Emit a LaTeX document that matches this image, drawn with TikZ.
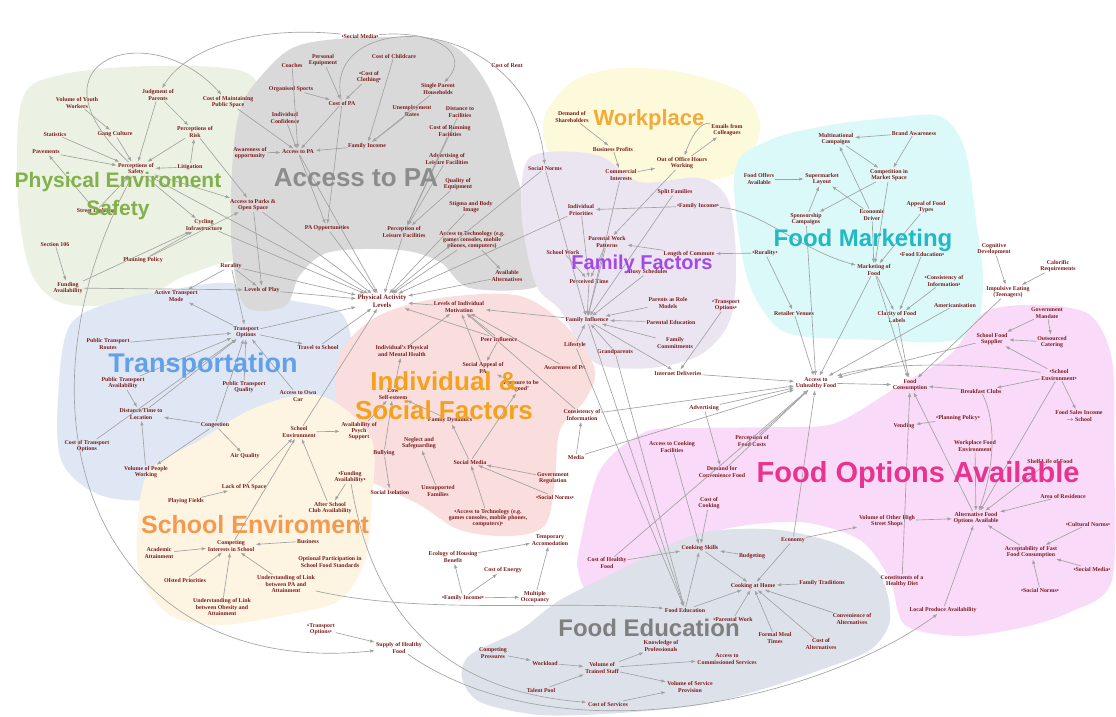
\documentclass[tikz,border=0pt]{standalone}
\usepackage{fontspec}
\setmainfont{Liberation Serif}
\newfontfamily\titlef{Liberation Sans}
\usetikzlibrary{arrows.meta}
\definecolor{nred}{HTML}{7A1E1E}
\definecolor{egray}{HTML}{A2A2A2}
\definecolor{bgPES}{HTML}{ECF2E3}
\definecolor{bgAPA}{HTML}{D9D9D9}
\definecolor{bgWP}{HTML}{FDF9DB}
\definecolor{bgFF}{HTML}{EBE5F2}
\definecolor{bgFM}{HTML}{DBF9F9}
\definecolor{bgTR}{HTML}{DFE7F5}
\definecolor{bgIS}{HTML}{FADDDD}
\definecolor{bgSE}{HTML}{FDF4E2}
\definecolor{bgFO}{HTML}{F9DAF8}
\definecolor{bgFE}{HTML}{DDE2EA}
\definecolor{tPES}{HTML}{82B04A}
\definecolor{tAPA}{HTML}{8C8C8C}
\definecolor{tWP}{HTML}{F2AB35}
\definecolor{tFF}{HTML}{A448E8}
\definecolor{tFM}{HTML}{22B9C4}
\definecolor{tTR}{HTML}{63A0EA}
\definecolor{tIS}{HTML}{F2A21C}
\definecolor{tSE}{HTML}{F29A50}
\definecolor{tFO}{HTML}{E8348F}
\definecolor{tFE}{HTML}{7F7F7F}
\tikzset{
  n/.style={font=\fontsize{5.9}{6.4}\selectfont\bfseries, text=nred, align=center, inner sep=0.8pt},
  ar/.style={draw=egray, line width=0.65pt, -{Latex[length=4.5pt,width=3.4pt]}, shorten >=0.5pt},
  ttl/.style={inner sep=0pt, font=\titlef\bfseries\fontsize{#1}{#1}\selectfont}
}
\begin{document}
\begin{tikzpicture}[x=1pt,y=-1pt]
\useasboundingbox (0,0) rectangle (1116,717);
\fill[white] (0,0) rectangle (1116,717);
% ---------- region blobs ----------
\fill[bgPES] plot[smooth cycle, tension=0.55] coordinates {(22,100) (60,75) (150,66) (245,72) (262,110) (245,150) (235,215) (240,255) (215,265) (180,278) (140,300) (90,306) (55,300) (30,270) (18,200)};
\fill[bgTR] plot[smooth cycle, tension=0.55] coordinates {(70,325) (120,300) (170,290) (230,283) (290,300) (340,312) (352,350) (345,400) (310,440) (262,466) (220,484) (160,500) (100,495) (62,462) (58,400)};
\fill[bgAPA] plot[smooth cycle, tension=0.55] coordinates {(262,75) (300,45) (380,37) (450,44) (490,90) (515,170) (535,240) (540,285) (470,288) (440,262) (400,250) (330,252) (300,275) (285,306) (245,306) (232,250) (232,170) (240,110)};
\fill[bgWP] plot[smooth cycle, tension=0.55] coordinates {(545,115) (575,80) (625,68) (690,74) (745,95) (760,130) (740,170) (700,182) (640,186) (580,176) (548,150)};
\fill[bgFF] plot[smooth cycle, tension=0.55] coordinates {(525,165) (548,152) (600,156) (640,182) (700,178) (728,200) (736,260) (730,320) (700,355) (650,368) (600,365) (580,345) (560,310) (536,285) (522,220)};
\fill[bgFM] plot[smooth cycle, tension=0.55] coordinates {(735,170) (770,140) (830,125) (900,117) (942,117) (965,150) (976,220) (983,280) (975,330) (940,342) (880,340) (800,336) (770,320) (745,270)};
\fill[bgIS] plot[smooth cycle, tension=0.55] coordinates {(345,345) (380,315) (440,298) (520,296) (570,330) (595,370) (585,400) (560,430) (555,480) (545,525) (510,536) (460,530) (420,505) (380,486) (355,470) (340,420) (335,380)};
\fill[bgSE] plot[smooth cycle, tension=0.55] coordinates {(150,470) (200,440) (250,410) (300,395) (335,402) (372,440) (372,500) (365,560) (340,600) (290,614) (220,625) (170,615) (140,575) (138,520)};
\fill[bgFO] plot[smooth cycle, tension=0.5] coordinates {(580,545) (600,470) (645,432) (700,428) (780,427) (836,423) (900,385) (950,355) (985,312) (1040,305) (1090,315) (1112,360) (1114,450) (1112,580) (1070,612) (1020,628) (960,636) (905,625) (890,580) (860,540) (800,522) (720,530) (650,560) (592,592) (578,570)};
\fill[bgFE] plot[smooth cycle, tension=0.5] coordinates {(470,655) (520,630) (560,600) (620,570) (680,540) (720,530) (780,530) (840,545) (880,575) (890,620) (870,650) (820,670) (760,690) (700,705) (620,713) (540,715) (480,702) (462,678)};
% ---------- nodes ----------
\node[n] (vyw) at (77,103) {Volume of Youth\\Workers};
\node[n] (jop) at (158,95) {Judgment of\\Parents};
\node[n] (cmps) at (228,102) {Cost of Maintaining\\Public Space};
\node[n] (por) at (195,132) {Perceptions of\\Risk};
\node[n] (stat) at (55,134) {Statistics};
\node[n] (gang) at (115,134) {Gang Culture};
\node[n] (pave) at (46,152) {Pavements};
\node[n] (pos) at (136,169) {Perceptions of\\Safety};
\node[n] (litig) at (190,167) {Litigation};
\node[n] (street) at (96,211) {Street Lighting};
\node[n] (parks) at (253,205) {Access to Parks \&\\Open Space};
\node[n] (cyc) at (204,225) {Cycling\\Infrastructure};
\node[n] (s106) at (55,244) {Section 106};
\node[n] (plan) at (143,260) {Planning Policy};
\node[n] (fund) at (68,288) {Funding\\Availability};
\node[n] (coach) at (292,65) {Coaches};
\node[n] (pequip) at (323,60) {Personal\\Equipment};
\node[n] (cchild) at (394,56) {Cost of Childcare};
\node[n] (cloth) at (369,77) {•Cost of\\Clothing•};
\node[n] (orgs) at (291,89) {Organised Sports};
\node[n] (cpa) at (342,103) {Cost of PA};
\node[n] (spar) at (438,89) {Single Parent\\Households};
\node[n] (unemp) at (412,111) {Unemployment\\Rates};
\node[n] (dfac) at (460,112) {Distance to\\Facilities};
\node[n] (crun) at (450,131) {Cost of Running\\Facilities};
\node[n] (iconf) at (285,118) {Individual\\Confidence};
\node[n] (finc) at (367,146) {Family Income};
\node[n] (apa) at (298,152) {Access to PA};
\node[n] (aware) at (250,153) {Awareness of\\opportunity};
\node[n] (advlf) at (447,159) {Advertising of\\Leisure Facilities};
\node[n] (qeq) at (458,184) {Quality of\\Equipment};
\node[n] (stig) at (471,207) {Stigma and Body\\Image};
\node[n] (paopp) at (327,228) {PA Opportunities};
\node[n] (plf) at (404,232) {Perception of\\Leisure Facilities};
\node[n] (atech) at (472,240) {Access to Technology (e.g.\\games consoles, mobile\\phones, computers)};
\node[n] (aalt) at (507,276) {Available\\Alternatives};
\node[n] (lplay) at (262,290) {Levels of Play};
\node[n, font=\fontsize{6.8}{7.5}\selectfont\bfseries] (pal) at (382,301) {Physical Activity\\Levels};
\node[n] (smtop) at (360,36) {•Social Media•};
\node[n] (rent) at (507,65) {Cost of Rent};
\node[n] (dsh) at (572,117) {Demand of\\Shareholders};
\node[n] (email) at (727,130) {Emails from\\Colleagues};
\node[n] (bprof) at (613,149) {Business Profits};
\node[n] (ooh) at (682,163) {Out of Office Hours\\Working};
\node[n] (comm) at (621,175) {Commercial\\Interests};
\node[n] (snorm) at (545,168) {Social Norms};
\node[n] (split) at (675,192) {Split Families};
\node[n] (iprio) at (581,210) {Individual\\Priorities};
\node[n] (finc2) at (698,206) {•Family Income•};
\node[n] (pwp) at (607,242) {Parental Work\\Patterns};
\node[n] (swork) at (563,252) {School Work};
\node[n] (lcom) at (689,254) {Length of Commute};
\node[n] (rur2) at (765,253) {•Rurality•};
\node[n] (busy) at (648,272) {Busy Schedules};
\node[n] (ptime) at (589,281) {Perceived Time};
\node[n] (prole) at (668,303) {Parents as Role\\Models};
\node[n] (topt2) at (726,305) {•Transport\\Options•};
\node[n] (finf) at (587,320) {Family Influence};
\node[n] (ped) at (671,322) {Parental Education};
\node[n] (life) at (575,345) {Lifestyle};
\node[n] (grand) at (615,352) {Grandparents};
\node[n] (fcom) at (675,343) {Family\\Commitments};
\node[n] (retail) at (794,313) {Retailer Venues};
\node[n] (idel) at (678,373) {Internet Deliveries};
\node[n] (multi) at (836,139) {Multinational\\Campaigns};
\node[n] (brand) at (914,133) {Brand Awareness};
\node[n] (foff) at (759,179) {Food Offers\\Available};
\node[n] (smkt) at (822,179) {Supermarket\\Layout};
\node[n] (comp) at (889,175) {Competition in\\Market Space};
\node[n] (spon) at (806,219) {Sponsorship\\Campaigns};
\node[n] (econd) at (872,215) {Economic\\Driver};
\node[n] (appeal) at (926,207) {Appeal of Food\\Types};
\node[n] (fed2) at (922,254) {•Food Education•};
\node[n] (mkt) at (874,270) {Marketing of\\Food};
\node[n] (coi2) at (944,281) {•Consistency of\\Information•};
\node[n] (amer) at (955,305) {Americanisation};
\node[n] (clar) at (897,317) {Clarity of Food\\Labels};
\node[n] (cog) at (994,249) {Cognitive\\Development};
\node[n] (cal) at (1058,266) {Calorific\\Requirements};
\node[n] (imp) at (1008,292) {Impulsive Eating\\(Teenagers)};
\node[n] (gov) at (1047,313) {Government\\Mandate};
\node[n] (sfs) at (992,339) {School Food\\Supplier};
\node[n] (outc) at (1052,342) {Outsourced\\Catering};
\node[n] (auf) at (816,383) {Access to\\Unhealthy Food};
\node[n] (fcons) at (910,385) {Food\\Consumption};
\node[n] (senv2) at (1059,375) {•School\\Environment•};
\node[n] (bclub) at (981,391) {Breakfast Clubs};
\node[n] (fsi) at (1079,416) {Food Sales Income\\$\rightarrow$ School};
\node[n] (ppol2) at (958,418) {•Planning Policy•};
\node[n] (vend) at (904,426) {Vending};
\node[n] (wfe) at (975,446) {Workplace Food\\Environment};
\node[n] (shelf) at (1050,461) {Shelf Life of Food};
\node[n] (area) at (1063,496) {Area of Residence};
\node[n] (voth) at (887,521) {Volume of Other High\\Street Shops};
\node[n] (alt) at (976,518) {Alternative Food\\Options Available};
\node[n] (cult) at (1088,524) {•Cultural Norms•};
\node[n] (accf) at (1031,552) {Acceptability of Fast\\Food Consumption};
\node[n] (smr) at (1092,569) {•Social Media•};
\node[n] (snr) at (1040,590) {•Social Norms•};
\node[n] (chd) at (902,581) {Constituents of a\\Healthy Diet};
\node[n] (lpa) at (943,610) {Local Produce Availability};
\node[n] (econ) at (793,540) {Economy};
\node[n] (pfc) at (752,441) {Perception of\\Food Costs};
\node[n] (acf) at (672,447) {Access to Cooking\\Facilities};
\node[n] (dcf) at (722,472) {Demand for\\Convenience Food};
\node[n] (ccook) at (709,503) {Cost of\\Cooking};
\node[n] (chf) at (607,563) {Cost of Healthy\\Food};
\node[n] (advt) at (704,408) {Advertising};
\node[n] (coi) at (582,415) {Consistency of\\Information};
\node[n] (media) at (576,457) {Media};
\node[n] (greg) at (553,478) {Government\\Regulation};
\node[n] (snm) at (555,497) {•Social Norms•};
\node[n] (cskill) at (700,548) {Cooking Skills};
\node[n] (budg) at (752,556) {Budgeting};
\node[n] (cah) at (753,586) {Cooking at Home};
\node[n] (ftrad) at (822,583) {Family Traditions};
\node[n] (fedu) at (685,610) {Food Education};
\node[n] (pwork) at (733,619) {•Parental Work};
\node[n] (fmt) at (775,638) {Formal Meal\\Times};
\node[n] (calt) at (821,644) {Cost of\\Alternatives};
\node[n] (convalt) at (852,619) {Convenience of\\Alternatives};
\node[n] (kprof) at (661,646) {Knowledge of\\Professionals};
\node[n] (acs) at (727,659) {Access to\\Commissioned Services};
\node[n] (vts) at (602,668) {Volume of\\Trained Staff};
\node[n] (wload) at (545,663) {Workload};
\node[n] (cpres) at (493,653) {Competing\\Pressures};
\node[n] (tpool) at (541,690) {Talent Pool};
\node[n] (vsp) at (690,687) {Volume of Service\\Provision};
\node[n] (cserv) at (608,704) {Cost of Services};
\node[n] (ehb) at (453,557) {Ecology of Housing\\Benefit};
\node[n] (tacc) at (550,540) {Temporary\\Accomodation};
\node[n] (cen) at (503,570) {Cost of Energy};
\node[n] (finc3) at (463,598) {•Family Income•};
\node[n] (mocc) at (535,597) {Multiple\\Occupancy};
\node[n] (topt3) at (321,629) {•Transport\\Options•};
\node[n] (shf) at (399,648) {Supply of Healthy\\Food};
\node[n] (atech2) at (488,518) {•Access to Technology (e.g.\\games consoles, mobile phones,\\computers)•};
\node[n] (unsup) at (438,491) {Unsupported\\Families};
\node[n] (siso) at (390,492) {Social Isolation};
\node[n] (fund2) at (350,477) {•Funding\\Availability•};
\node[n] (lim) at (459,307) {Levels of Individual\\Motivation};
\node[n] (peer) at (499,339) {Peer Influence};
\node[n] (ipmh) at (402,351) {Individual's Physical\\and Mental Health};
\node[n] (sapa) at (483,368) {Social Appeal of\\PA};
\node[n] (awpa) at (565,367) {Awareness of PA};
\node[n] (ptbg) at (521,386) {Pressure to be\\`good'};
\node[n] (lse) at (393,394) {Low\\Self-esteem};
\node[n] (fdyn) at (450,420) {Family Dynamics};
\node[n] (psych) at (359,431) {Availability of\\Psych\\Support};
\node[n] (neg) at (419,443) {Neglect and\\Safeguarding};
\node[n] (bully) at (384,453) {Bullying};
\node[n] (smed) at (470,462) {Social Media};
\node[n] (tts) at (318,347) {Travel to School};
\node[n] (aoc) at (298,396) {Access to Own\\Car};
\node[n] (senv) at (299,432) {School\\Environment};
\node[n] (rur) at (231,266) {Rurality};
\node[n] (atm) at (176,296) {Active Transport\\Mode};
\node[n] (topt) at (246,332) {Transport\\Options};
\node[n] (ptr) at (108,344) {Public Transport\\Routes};
\node[n] (pta) at (123,383) {Public Transport\\Availability};
\node[n] (ptq) at (244,387) {Public Transport\\Quality};
\node[n] (dtl) at (141,414) {Distance/Time to\\Location};
\node[n] (cong) at (215,425) {Congestion};
\node[n] (cto) at (87,446) {Cost of Transport\\Options};
\node[n] (airq) at (245,456) {Air Quality};
\node[n] (vpw) at (146,472) {Volume of People\\Working};
\node[n] (lpas) at (244,487) {Lack of PA Space};
\node[n] (pfield) at (186,501) {Playing Fields};
\node[n] (asca) at (330,508) {After School\\Club Availability};
\node[n] (cis) at (231,546) {Competing\\Interests in School};
\node[n] (acad) at (159,553) {Academic\\Attainment};
\node[n] (bus) at (308,541) {Business};
\node[n] (opt) at (330,562) {Optional Participation in\\School Food Standards};
\node[n] (ofs) at (185,580) {Ofsted Priorities};
\node[n] (ulpa) at (286,584) {Understanding of Link\\between PA and\\Attainment};
\node[n] (ulob) at (222,607) {Understanding of Link\\between Obesity and\\Attainment};
% ---------- connectors ----------
\foreach \a/\b in {vyw/gang, gang/pos, stat/pos, pave/pos, jop/pos, por/pos, jop/por, litig/por, litig/pos, street/pave, street/pos, por/parks, pos/cyc, pos/parks, plan/cyc, plan/parks, s106/fund, fund/lplay, fund/cyc, cyc/pal, parks/pal, parks/lplay, pos/pal,
 coach/apa, pequip/cpa, orgs/cpa, cloth/cpa, cpa/apa, iconf/apa, aware/apa, cmps/apa, cchild/finc, spar/finc, unemp/finc, finc/apa, cpa/paopp, apa/pal, apa/paopp, paopp/pal, dfac/plf, crun/plf, advlf/plf, qeq/plf, stig/pal, plf/pal, atech/pal, atech/aalt, aalt/pal, lplay/pal, rur/pal, rur/lplay,
 dsh/bprof, bprof/comm, comm/ooh, ooh/email, comm/finf, ooh/pwp, snorm/finf, split/finf, finc2/iprio, iprio/ptime, pwp/ptime, pwp/finf, swork/ptime, lcom/pwp, rur2/lcom, ptime/finf, busy/finf, prole/finf, ped/finf, fcom/finf, life/finf, grand/finf, finf/lim, topt2/idel, finf/idel, idel/auf, rur2/retail, retail/auf, snorm/pal, iprio/pal,
 brand/multi, brand/comp, multi/comp, foff/smkt, spon/smkt, econd/multi, econd/smkt, comp/spon, appeal/mkt, comp/mkt, mkt/clar, fed2/clar, coi2/clar, mkt/fcons, mkt/auf, clar/fcons, amer/auf, cog/imp, cal/imp, imp/fcons, spon/auf, econd/mkt,
 gov/sfs, gov/outc, outc/sfs, senv2/sfs, senv2/bclub, senv2/fsi, sfs/auf, bclub/fcons, auf/fcons, ppol2/vend, wfe/alt, shelf/alt, area/alt, voth/alt, accf/alt, cult/accf, smr/accf, snr/accf, lpa/alt, chd/fcons, alt/fcons, econ/auf, senv2/alt, econ/voth,
 coi/lim, media/coi, greg/smed, advt/auf, advt/dcf, pfc/auf, acf/cskill, ccook/cskill, dcf/auf, chf/auf, cskill/cah, budg/cskill, ftrad/cah, fmt/cah, calt/cah, convalt/cah, pwork/cah, fedu/cskill, fedu/cah, vts/kprof, vts/acs, vts/vsp, cpres/wload, wload/vts, tpool/vts, cserv/vsp, ehb/tacc, finc3/ehb, finc3/cen, finc3/mocc, mocc/tacc, topt3/shf, coi/auf, media/auf, chf/cskill, finf/fedu, grand/fedu, life/fedu, econ/cah,
 pfield/lpas, lpas/senv, senv/pal, acad/cis, ofs/cis, ulob/cis, ulpa/cis, bus/cis, asca/senv, fund2/asca, cis/senv,
 rur/topt, rur/atm, topt/atm, topt/pal, tts/pal, topt/tts, ptr/topt, pta/topt, ptq/topt, aoc/topt, dtl/topt, cong/dtl, cong/airq, cong/topt, cto/topt, vpw/dtl, cong/vpw, pta/dtl,
 peer/lim, peer/sapa, peer/pal, ipmh/lim, sapa/lim, ptbg/sapa, awpa/lim, lse/ipmh, psych/lse, bully/lse, smed/ptbg, smed/fdyn, atech2/smed, snm/smed, unsup/neg, lim/pal, fdyn/lse, bully/siso, senv/psych}
  \draw[ar] (\a) -- (\b);
\draw[ar] (smtop) .. controls (250,25) and (185,50) .. (jop);
\draw[ar] (pos) .. controls (20,60) and (150,15) .. (cmps);
\draw[ar] (cpa) .. controls (320,5) and (530,10) .. (snorm);
\draw[ar] (smtop) .. controls (440,30) and (470,55) .. (spar);
\draw[ar] (pos) .. controls (0,420) and (100,680) .. (shf);
\draw[ar] (shf) .. controls (560,760) and (820,700) .. (lpa);
\draw[ar] (ulpa) .. controls (420,615) and (560,600) .. (fedu);
\draw[ar] (fund2) .. controls (370,600) and (430,690) .. (cserv);
\draw[ar] (bclub) .. controls (1000,430) and (990,480) .. (alt);
\draw[ar] (senv2) .. controls (950,360) and (870,365) .. (auf);
\draw[ar] (finc2) .. controls (760,210) and (800,250) .. (mkt);
\draw[ar] (email) .. controls (700,120) and (690,140) .. (ooh);
% ---------- titles ----------
\node[ttl=21, text=tPES] at (118,182) {Physical Enviroment};
\node[ttl=21, text=tPES] at (118,210) {Safety};
\node[ttl=26, text=tAPA] at (356,178) {Access to PA};
\node[ttl=22, text=tWP] at (649,120) {Workplace};
\node[ttl=20, text=tFF] at (642,264) {Family Factors};
\node[ttl=24, text=tFM] at (863,240) {Food Marketing};
\node[ttl=27, text=tTR] at (203,366) {Transportation};
\node[ttl=26, text=tIS] at (444,381) {Individual \&};
\node[ttl=26, text=tIS] at (444,410) {Social Factors};
\node[ttl=25, text=tSE] at (255,525) {School Enviroment};
\node[ttl=24, text=tFE] at (649,628) {Food Education};
\node[ttl=29, text=tFO] at (918,475) {Food Options Available};
\end{tikzpicture}
\end{document}
